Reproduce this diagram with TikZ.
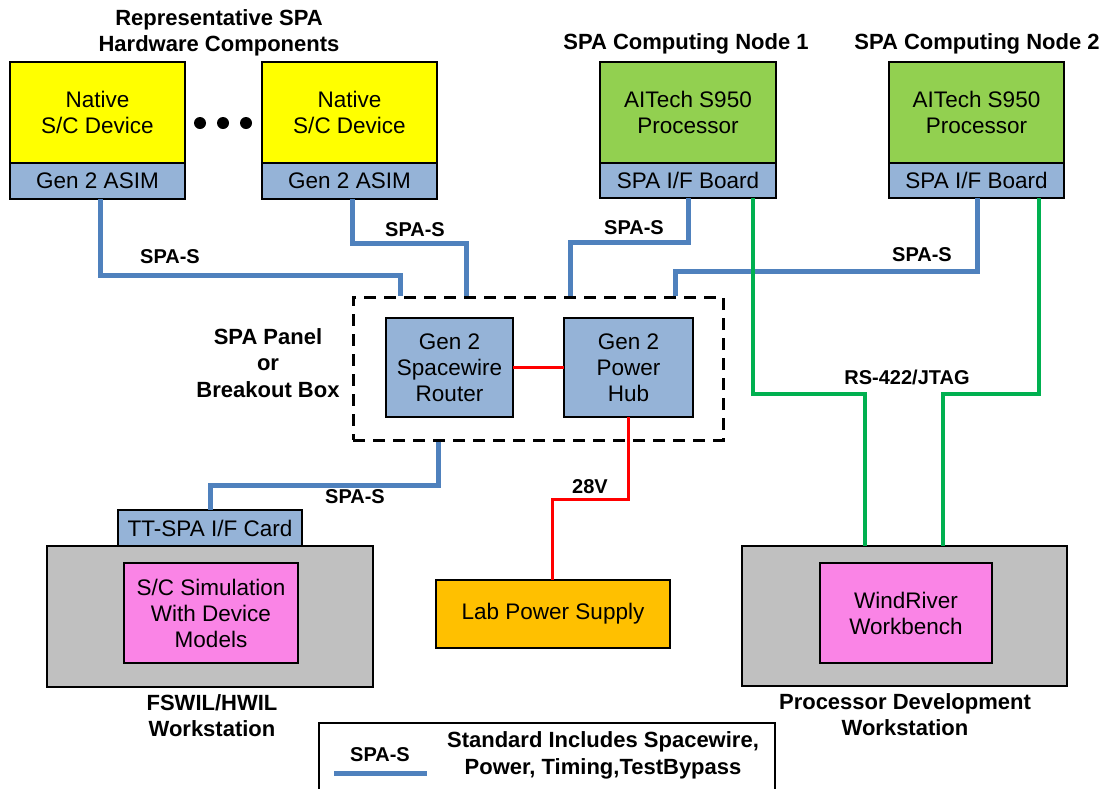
\documentclass[tikz,border=0pt]{standalone}
\usepackage{fontspec}
\setmainfont{Liberation Sans}
\usetikzlibrary{positioning}
\definecolor{devyellow}{HTML}{FFFF00}
\definecolor{cpugreen}{HTML}{92D050}
\definecolor{boardblue}{HTML}{95B3D7}
\definecolor{wsgray}{HTML}{C0C0C0}
\definecolor{swpink}{HTML}{FA84E6}
\definecolor{psorange}{HTML}{FFC000}
\definecolor{spablue}{HTML}{4F81BD}
\definecolor{jtaggreen}{HTML}{00B050}
\begin{document}
\begin{tikzpicture}[x=1pt,y=-1pt,
		box/.style={draw,line width=2pt,inner sep=0pt,outer sep=0pt,align=center,
			font=\fontsize{22.5}{26}\selectfont},
		board/.style={box,fill=boardblue,minimum height=36pt},
		lbl/.style={font=\fontsize{20}{24}\selectfont\bfseries,inner sep=0pt},
		ttl/.style={font=\fontsize{22}{26.5}\selectfont\bfseries,align=center,inner sep=0pt},
		spa/.style={draw=spablue,line width=5pt},
		pwr/.style={draw=red,line width=3pt},
		jtag/.style={draw=jtaggreen,line width=4pt}]
		\useasboundingbox (0,0) rectangle (1107,788);
		\node[ttl] (hwtitle) at (219,33) {Representative SPA\\Hardware Components};
		\node[box,fill=devyellow,minimum width=175pt,minimum height=101pt] (dev1) at (97.5,112.5) {Native\\S/C Device};
		\node[board,minimum width=175pt,below=0pt of dev1] (dev1b) {Gen 2 ASIM};
		\node[box,fill=devyellow,minimum width=175pt,minimum height=101pt] (dev2) at (349.5,112.5) {Native\\S/C Device};
		\node[board,minimum width=175pt,below=0pt of dev2] (dev2b) {Gen 2 ASIM};
		\foreach \x in {200,223,246}
			\fill (\x,123) circle[radius=6pt];
		\node[ttl] (n1title) at (686,44) {SPA Computing Node 1};
		\node[box,fill=cpugreen,minimum width=176pt,minimum height=101pt] (node1) at (688,112.5) {AITech S950\\Processor};
		\node[board,minimum width=176pt,minimum height=35pt,below=0pt of node1] (node1b) {SPA I/F Board};
		\node[ttl] (n2title) at (977,44) {SPA Computing Node 2};
		\node[box,fill=cpugreen,minimum width=175pt,minimum height=101pt] (node2) at (976.5,112.5) {AITech S950\\Processor};
		\node[board,minimum width=175pt,minimum height=35pt,below=0pt of node2] (node2b) {SPA I/F Board};
		\node[draw,dashed,dash pattern=on 12pt off 8pt,line width=3pt,minimum width=370pt,minimum height=143pt] (panel) at (538,368.5) {};
		\node[ttl] (paneltitle) at (268,363) {SPA Panel\\or\\Breakout Box};
		\node[box,fill=boardblue,minimum width=127pt,minimum height=99pt] (router) at (449.5,367.5) {Gen 2\\Spacewire\\Router};
		\node[box,fill=boardblue,minimum width=129pt,minimum height=99pt] (hub) at (628.5,367.5) {Gen 2\\Power\\Hub};
		\node[box,fill=wsgray,minimum width=326pt,minimum height=141pt] (ws1) at (210,616.5) {};
		\node[board,minimum width=184pt,above=0pt of ws1] (card) {TT-SPA I/F Card};
		\node[box,fill=swpink,minimum width=174pt,minimum height=100pt] (sim) at (211,613) {S/C Simulation\\With Device\\Models};
		\node[ttl] (ws1title) at (212,715.5) {FSWIL/HWIL\\Workstation};
		\node[box,fill=psorange,minimum width=234pt,minimum height=68pt] (lps) at (553,614) {Lab Power Supply};
		\node[box,fill=wsgray,minimum width=325pt,minimum height=140pt] (ws2) at (904.5,616) {};
		\node[box,fill=swpink,minimum width=172pt,minimum height=100pt] (wb) at (906,613) {WindRiver\\Workbench};
		\node[ttl] (ws2title) at (905,714.5) {Processor Development\\Workstation};
		\draw[spa] (100,0 |- dev1b.south) |- (400,275) -- (400,0 |- panel.north);
		\draw[spa] (352,0 |- dev2b.south) |- (466,243) -- (466,0 |- panel.north);
		\draw[spa] (688,0 |- node1b.south) |- (570,242) -- (570,0 |- panel.north);
		\draw[spa] (977,0 |- node2b.south) |- (675,271) -- (675,0 |- panel.north);
		\draw[spa] (438,0 |- panel.south) |- (card.north |- 0,485) -- (card.north);
		\draw[pwr] (router) -- (hub);
		\draw[pwr] (hub.south) |- (552,499) -- (552,0 |- lps.north);
		\draw[jtag] (753,0 |- node1b.south) |- (865,394) -- (865,0 |- ws2.north);
		\draw[jtag] (1039,0 |- node2b.south) |- (943,394) -- (943,0 |- ws2.north);
		\node[lbl] (s1) at (170,257) {SPA-S};
		\node[lbl] (s2) at (415,230) {SPA-S};
		\node[lbl] (s3) at (634,228) {SPA-S};
		\node[lbl] (s4) at (922,255) {SPA-S};
		\node[lbl] (s5) at (355,497) {SPA-S};
		\node[lbl] (v28) at (590,487) {28V};
		\node[lbl] (rs) at (907,377) {RS-422/JTAG};
		\draw[line width=2.5pt] (319,800) |- (775,723) -- (775,800);
		\node[lbl] (keyname) at (380,755) {SPA-S};
		\coordinate (keya) at (334,773);
		\coordinate (keyb) at (427,773);
		\draw[spa] (keya) -- (keyb);
		\node[ttl] (keytext) at (603,755.5) {Standard Includes Spacewire,\\Power, Timing,TestBypass};
\end{tikzpicture}
\end{document}
